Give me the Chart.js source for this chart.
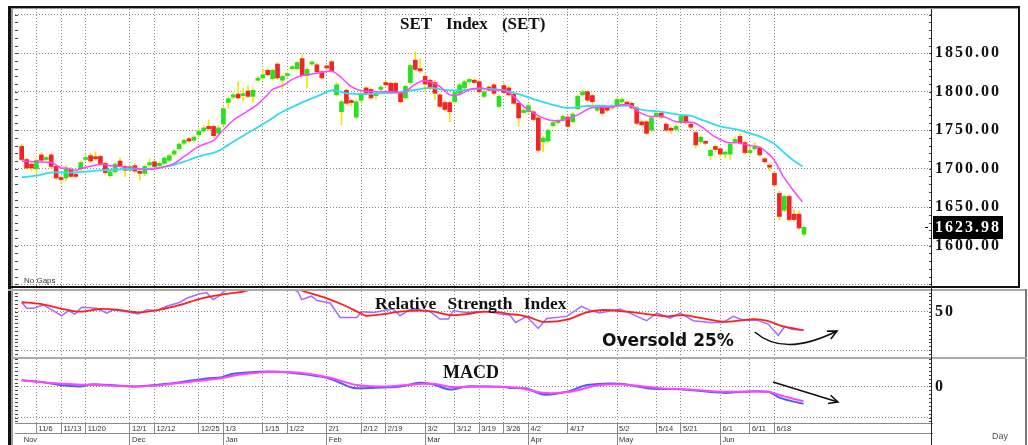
<!DOCTYPE html>
<html>
<head>
<meta charset="utf-8">
<script src="https://cdn.jsdelivr.net/npm/chart.js@4.4.1/dist/chart.umd.min.js"></script>
<style>
  body { margin: 0; background: #fff; }
  #wrap { position: relative; width: 1028px; height: 445px; overflow: hidden; background: #fff; }
  canvas { position: absolute; }
  .ln { position: absolute; }
  .lbl { position: absolute; white-space: nowrap; color: #111; }
  .serif { font-family: "Liberation Serif", "Times New Roman", serif; font-weight: bold; }
</style>
</head>
<body>
<div id="wrap">
  <canvas id="main" width="1003" height="277" style="left:15px;top:9px"></canvas>
  <canvas id="rsi" width="1003" height="65" style="left:15px;top:291px"></canvas>
  <canvas id="macd" width="1003" height="86" style="left:15px;top:359px"></canvas>

  <!-- frame -->
  <div class="ln" style="left:8px;top:6px;width:1012px;height:2px;background:#111"></div>
  <div class="ln" style="left:8px;top:8px;width:1012px;height:1px;background:#999"></div>
  <div class="ln" style="left:8px;top:6px;width:3px;height:439px;background:#111"></div>
  <div class="ln" style="left:11px;top:8px;width:2px;height:437px;background:#999"></div>
  <div class="ln" style="left:8px;top:286px;width:1012px;height:2px;background:#111"></div>
  <div class="ln" style="left:8px;top:289px;width:1019px;height:2px;background:#aaa"></div>
  <div class="ln" style="left:1018px;top:6px;width:2px;height:282px;background:#111"></div>
  <div class="ln" style="left:1025px;top:289px;width:2px;height:156px;background:#777"></div>
  <div class="ln" style="left:11px;top:357px;width:1016px;height:2px;background:#aaa"></div>
  <div class="ln" style="left:931px;top:9px;width:1px;height:436px;background:#222"></div>

  <!-- texts -->
  <div class="lbl serif" style="left:400px;top:15px;font-size:17px;line-height:17px;word-spacing:10px">SET Index (SET)</div>
  <div class="lbl serif" style="left:375px;top:295px;font-size:17.5px;line-height:17.5px;word-spacing:7px">Relative Strength Index</div>
  <div class="lbl serif" style="left:443px;top:363px;font-size:18px;line-height:18px">MACD</div>
  <div class="lbl" style="left:602px;top:332px;font:bold 17px/17px 'DejaVu Sans',sans-serif">Oversold 25%</div>
  <div class="lbl" style="left:24px;top:277px;font:8px/8px 'Liberation Sans',sans-serif;color:#333">No Gaps</div>
  <div class="lbl" style="left:992px;top:432px;font:9px/9px 'Liberation Sans',sans-serif;color:#555">Day</div>
</div>

<script>
// ---- data (x = trading day index, 0 = 1 Nov) ----
const opens = [
  1729,1712,1706,1700,1718,1712,1718,1703,1688,1688,
  1699,1693,1700,1712,1717,1715,1716,1707,1691,1696,
  1710,1703,1698,1704,1696,1694,1705,1709,1704,1707,
  1711,1719,1726,1733,1739,1737,1744,1749,1755,1755,
  1746,1758,1786,1793,1797,1795,1801,1794,1815,1818,
  1828,1817,1836,1815,1821,1830,1830,1843,1821,1836,
  1835,1826,1833,1839,1796,1774,1802,1788,1767,1789,
  1805,1803,1795,1803,1812,1811,1811,1798,1792,1812,
  1841,1830,1820,1815,1812,1796,1786,1786,1787,1798,
  1805,1813,1815,1813,1794,1806,1809,1781,1808,1805,
  1797,1785,1773,1774,1774,1766,1735,1736,1756,1760,
  1764,1767,1761,1778,1796,1800,1795,1776,1781,1778,
  1779,1782,1787,1786,1785,1779,1761,1761,1750,1768,
  1772,1758,1752,1751,1760,1768,1758,1747,1735,1735,
  1717,1729,1726,1719,1719,1735,1742,1734,1721,1726,
  1727,1713,1704,1694,1668,1646,1664,1641,1641,1615
];
const closes = [
  1712,1701,1701,1711,1711,1714,1703,1688,1686,1700,
  1690,1690,1708,1714,1710,1713,1706,1695,1696,1706,
  1704,1698,1703,1697,1694,1703,1708,1703,1707,1714,
  1717,1723,1732,1737,1736,1741,1749,1753,1752,1743,
  1753,1778,1791,1796,1792,1796,1794,1802,1817,1822,
  1822,1828,1818,1820,1823,1832,1838,1821,1829,1838,
  1826,1818,1831,1827,1809,1787,1785,1786,1787,1798,
  1798,1792,1798,1806,1809,1799,1800,1787,1807,1834,
  1829,1827,1810,1805,1798,1781,1777,1774,1799,1809,
  1813,1816,1812,1800,1800,1802,1798,1794,1799,1796,
  1785,1766,1776,1782,1764,1724,1740,1750,1760,1762,
  1768,1755,1771,1794,1800,1789,1787,1780,1772,1776,
  1781,1790,1790,1784,1779,1759,1757,1746,1766,1772,
  1767,1750,1750,1755,1768,1760,1754,1731,1741,1733,
  1724,1725,1719,1721,1732,1738,1733,1721,1723,1728,
  1718,1709,1702,1679,1638,1664,1634,1634,1623,1623.98
];
const highs = [
  1732,1714,1708,1713,1721,1716,1720,1705,1690,1704,
  1702,1695,1710,1718,1720,1722,1718,1709,1698,1708,
  1714,1705,1705,1707,1698,1705,1713,1711,1709,1716,
  1719,1725,1734,1739,1741,1743,1752,1756,1763,1757,
  1756,1780,1793,1799,1813,1805,1808,1804,1820,1829,
  1830,1830,1838,1822,1826,1834,1840,1848,1831,1840,
  1837,1828,1835,1841,1812,1789,1804,1790,1789,1800,
  1807,1805,1800,1808,1815,1813,1813,1800,1809,1836,
  1852,1843,1823,1817,1815,1798,1788,1788,1801,1811,
  1815,1818,1817,1815,1802,1808,1811,1796,1811,1807,
  1799,1787,1778,1784,1776,1768,1742,1752,1762,1764,
  1770,1769,1773,1796,1802,1802,1797,1782,1783,1780,
  1783,1792,1792,1788,1787,1781,1763,1763,1768,1774,
  1774,1760,1754,1757,1770,1770,1760,1749,1743,1737,
  1726,1731,1728,1723,1734,1741,1745,1736,1728,1734,
  1729,1715,1706,1696,1671,1666,1666,1647,1645,1626
];
const lows = [
  1710,1699,1697,1694,1709,1710,1701,1686,1681,1685,
  1688,1688,1698,1710,1708,1711,1704,1692,1689,1694,
  1702,1690,1696,1695,1685,1691,1703,1701,1702,1705,
  1709,1717,1724,1731,1734,1735,1742,1747,1750,1740,
  1744,1756,1778,1791,1790,1787,1792,1786,1813,1816,
  1820,1815,1816,1804,1819,1828,1828,1819,1805,1834,
  1824,1816,1829,1825,1794,1757,1783,1781,1765,1787,
  1796,1790,1790,1801,1807,1797,1798,1785,1790,1810,
  1827,1825,1800,1803,1790,1779,1775,1761,1785,1796,
  1803,1811,1810,1798,1792,1800,1796,1779,1797,1794,
  1783,1755,1771,1772,1762,1722,1722,1734,1754,1758,
  1762,1753,1759,1776,1794,1787,1780,1774,1770,1774,
  1777,1780,1785,1782,1777,1757,1755,1744,1748,1766,
  1765,1748,1746,1749,1758,1758,1752,1727,1733,1731,
  1712,1722,1715,1714,1712,1733,1731,1719,1719,1724,
  1716,1707,1697,1677,1633,1644,1632,1632,1621,1612
];

// moving averages [day index, value]
const maFast = [[0,1710],[2.4,1709],[6,1708],[8,1701],[9,1701],[11,1698],[12.5,1701],[16,1706],[18,1704],[20,1703],
  [22.7,1701],[25.4,1699],[28,1701],[31,1707],[33.5,1718],[36,1729],[39,1737],[40.6,1748],[43,1763],[45.7,1774],
  [47.8,1783],[49.8,1795],[51,1803],[53,1808],[55,1816],[57,1821],[59,1823],[61,1825],[63,1827],[64.7,1820],
  [66.7,1808],[68.7,1802],[71.5,1800],[74.9,1800],[77.6,1799],[79.6,1808],[81.3,1814],[83,1813],[85,1807],[87,1796],
  [88.8,1796],[91,1803],[93,1805],[95.9,1802],[98,1802],[100,1794],[102,1781],[104.7,1770],[107.4,1763],[110,1763],
  [111.5,1766],[113,1770],[115.6,1779],[117.5,1780],[120,1780],[122,1783],[123.6,1782],[125.7,1773],[127.7,1768],[130.4,1768],
  [133,1761],[136.5,1760],[138.5,1753],[140.5,1743],[143.5,1734],[145.3,1734],[148,1730],[150,1728],[152,1718],[153,1711],
  [154.8,1690],[156.8,1672],[158.7,1657]];
const maSlow = [[0,1689],[3,1691],[5.8,1695],[9,1695],[12.5,1696],[16,1698],[19.3,1699],[22.7,1700],[26,1700],[29.5,1703],
  [32.9,1709],[36,1716],[39.6,1722],[41,1727],[43,1735],[46.4,1748],[49.8,1761],[53,1774],[56.6,1785],[60,1794],
  [63.3,1802],[66,1798],[69.4,1797],[72.8,1798],[76,1799],[79.6,1802],[83,1805],[86.4,1802],[89.8,1802],[93,1804],
  [96.6,1803],[99.3,1800],[102,1795],[104.7,1789],[107.4,1784],[110.8,1779],[114.2,1781],[116.9,1782],[120,1781],[123.6,1782],
  [126.3,1776],[130,1774],[133.8,1770],[135.8,1769],[138.5,1763],[142,1755],[145.3,1751],[148,1746],[150,1742],[152.8,1733],
  [154.8,1722],[156.8,1711],[158.7,1703]];

// RSI
const rsiFast = [[0,62.3],[1,54.4],[2.4,54.4],[4.4,58.8],[6.4,51.3],[8.1,44.7],[9.5,51.3],[10.8,46.9],[12.2,55.7],[15.2,54.4],
  [17.3,48.2],[18.6,52.6],[21.3,50],[23.7,46.9],[25.4,52.6],[27.4,51.3],[29.5,57],[32.2,62.3],[33.5,67.5],[36.2,73.3],
  [37.6,74.6],[38.9,65.8],[40.3,71.1],[41,76.3],[44,84],[48,88],[52,86],[55,80],[56.2,75.4],[56.9,65.8],
  [58.9,70.2],[60,64.5],[62.7,61.4],[64.7,42.5],[68.1,42.5],[69.1,50],[71.5,49.1],[73.5,51.3],[75.5,53.5],[76.9,44.7],
  [78.9,52.6],[80.9,52.6],[83,50],[85,40.4],[86.7,40.4],[87.7,51.3],[90.4,49.1],[92.5,50],[95.2,50],[97.2,46.9],
  [99.2,45.6],[100.4,36],[102.6,43.9],[105,28.1],[106.7,41.2],[110.8,43.9],[113.8,57],[115.2,52.6],[117.5,48.2],[121.6,53.5],
  [123.6,48.2],[127,38.2],[129.1,48.2],[131.8,41.7],[133.8,48.2],[136.5,38.2],[139.9,36],[142.6,36],[144.6,43.9],[146.7,39],
  [149.4,39],[151.7,33.8],[153.8,19.3],[155.1,30.7],[156.5,27.2],[158.9,25.9]];
const rsiSlow = [[0,62.3],[3.7,60.1],[7.8,54.4],[11.8,50],[15.9,53.5],[19.3,52.6],[24,49.1],[28.1,52.6],[32.2,58.8],[36.2,66.7],
  [40.3,72],[45,76.3],[50,84],[54,83],[57.9,75.4],[62,67.5],[65.4,58.8],[68.8,48.2],[70.1,44.7],[73.5,46.9],
  [76.9,50],[80.9,51.3],[83.7,50],[87,45.6],[90.4,46.9],[93.8,50],[97.2,49.1],[99.2,46.9],[101.3,45.6],[103.3,42.5],
  [106,36.8],[110.8,39.5],[114.8,49.1],[118.2,52.2],[123,50],[127,46.9],[131.1,43.9],[134.5,45.6],[138.5,41.2],[143.3,36.8],
  [148.7,40.4],[151.4,38.2],[154.8,30.7],[158.9,25.9]];

// MACD
const macdLine = [[0,4.1],[3.7,3.0],[7.8,0.9],[11.8,0],[13.9,1.3],[15.9,1.3],[22.7,0],[26.1,0.6],[29.5,1.7],[33.5,3.4],
  [37.6,5.2],[40.7,6.0],[43,8.2],[48.4,9.5],[51.8,9.5],[56.6,8.2],[62,5.6],[64.7,2.4],[67.4,-0.9],[71.5,-0.9],
  [76.9,0],[80.9,2.4],[83.7,1.3],[87,-1.9],[90.4,0],[93.8,0],[97.2,-0.2],[99.2,-0.9],[102.6,-1.3],[106,-5.2],
  [110.8,-3.4],[114.9,0.9],[121.6,1.7],[127.7,-1.3],[134.5,-1.9],[142.6,-4.1],[146.7,-3.4],[151.7,-3.4],[154.1,-7.3],[158.9,-11.2]];
const macdSignal = [[0,3.9],[5.8,2.2],[11.2,1.3],[15.9,0.9],[22.7,0],[27.4,0.6],[33.5,2.8],[40.3,5.2],[44.4,7.7],[51.1,9.5],
  [56.6,8.8],[62.7,5.6],[68.1,0.9],[73.5,0],[80.3,1.5],[83.7,1.7],[87.7,-0.4],[93.8,0],[99.2,-0.4],[101.3,-0.9],
  [106,-4.1],[111.4,-3.4],[116.9,0.6],[122.3,1.3],[129.7,-1.1],[135.8,-1.9],[142.6,-3.4],[151.4,-3.4],[154.8,-6.2],[158.9,-9.5]];

// axis ticks
const dateIdx = [3,8,13,22,27,36,41,49,54,62,69,74,82,88,93,98,103,111,121,129,134,142,148,153];
const dateLabels = ['11/6','11/13','11/20','12/1','12/12','12/25','1/3','1/15','1/22','2/1','2/12','2/19',
  '3/2','3/12','3/19','3/26','4/2','4/17','5/2','5/14','5/21','6/1','6/11','6/18'];
const monthIdx = [0,22,41,62,82,103,121,142];
const monthLabels = ['Nov','Dec','Jan','Feb','Mar','Apr','May','Jun'];
const priceTicks = [1550,1600,1650,1700,1750,1800,1850,1900];
const priceLabels = ['','1600.00','1650.00','1700.00','1750.00','1800.00','1850.00',''];
const rsiTicks = [0,50];
const rsiLabels = ['','50'];
const macdTicks = [-20,0];
const macdLabels = ['','0'];

// arrows drawn in data units [day, value]
const rsiArrow = [[149,23.5],[154.9,-9.8],[165.7,24.8]];
const macdArrow = [[152.7,2.9],[165.9,-10]];

// ---- chart setup ----
Chart.defaults.font.family = '"Liberation Sans", Arial, sans-serif';
Chart.defaults.animation = false;
Chart.defaults.events = [];
Chart.defaults.plugins.legend.display = false;
Chart.defaults.plugins.tooltip.enabled = false;

const X_MIN = -1.36, X_MAX = 185.02;
const GRID = '#8c8c8c';
const RED = '#f2242a', GREEN = '#25e025', WICK = '#f2e600';
const axisFont = { family: '"Liberation Serif", serif', size: 16, weight: 'bold' };
const pts = arr => arr.map(p => ({ x: p[0], y: p[1] }));
const days = opens.map((o, i) => i);

function xAxis() {
  return {
    type: 'linear', min: X_MIN, max: X_MAX, bounds: 'data', offset: false,
    afterBuildTicks: s => { s.ticks = dateIdx.map(v => ({ value: v })); },
    ticks: { display: false },
    grid: { color: GRID, drawTicks: false, offset: false },
    border: { display: false, dash: [1, 2] },
    afterFit: s => { s.height = 0; s.paddingLeft = 0; s.paddingRight = 0; }
  };
}

function yAxis(min, max, tickVals, labels) {
  return {
    type: 'linear', position: 'right', min: min, max: max, bounds: 'data',
    afterBuildTicks: s => { s.ticks = tickVals.map(v => ({ value: v })); },
    ticks: { callback: (v, i) => labels[i], font: axisFont, color: '#111', padding: 3 },
    grid: { color: GRID, drawTicks: false },
    border: { display: false, dash: [1, 2] },
    afterFit: s => { s.width = 86; s.paddingTop = 0; s.paddingBottom = 0; }
  };
}

// small tick marks along the left and right edges of each panel
const edgeTicks = {
  id: 'edgeTicks',
  afterDraw(chart, args, opts) {
    const { ctx, chartArea: { left, right } } = chart;
    const ys = chart.scales.y;
    ctx.save();
    ctx.strokeStyle = '#444';
    ctx.lineWidth = 1;
    ctx.beginPath();
    for (let v = Math.ceil(ys.min / opts.step) * opts.step; v <= ys.max; v += opts.step) {
      const y = Math.round(ys.getPixelForValue(v)) + 0.5;
      ctx.moveTo(left, y); ctx.lineTo(left + 3, y);
      ctx.moveTo(right - 3, y); ctx.lineTo(right, y);
    }
    ctx.stroke();
    ctx.restore();
  }
};

const spaced = {
  id: 'spaced',
  beforeDraw(c) { c.ctx.letterSpacing = '2px'; },
  afterDraw(c) { c.ctx.letterSpacing = '0px'; }
};

function makeArrow(points) {
  return {
    id: 'arrow',
    afterDatasetsDraw(chart) {
      const { ctx, scales: { x, y } } = chart;
      const p = points.map(q => [x.getPixelForValue(q[0]), y.getPixelForValue(q[1])]);
      ctx.save();
      ctx.strokeStyle = '#111';
      ctx.lineWidth = 1.6;
      ctx.beginPath();
      ctx.moveTo(p[0][0], p[0][1]);
      if (p.length === 3) ctx.quadraticCurveTo(p[1][0], p[1][1], p[2][0], p[2][1]);
      else ctx.lineTo(p[1][0], p[1][1]);
      ctx.stroke();
      const end = p[p.length - 1], prev = p[p.length - 2];
      const a = Math.atan2(end[1] - prev[1], end[0] - prev[0]);
      ctx.beginPath();
      ctx.moveTo(end[0] - 10 * Math.cos(a - 0.45), end[1] - 10 * Math.sin(a - 0.45));
      ctx.lineTo(end[0], end[1]);
      ctx.lineTo(end[0] - 10 * Math.cos(a + 0.45), end[1] - 10 * Math.sin(a + 0.45));
      ctx.stroke();
      ctx.restore();
    }
  };
}

// black box with the last close on the price axis
const lastPrice = {
  id: 'lastPrice',
  afterDraw(chart) {
    const { ctx, chartArea: { right } } = chart;
    const last = closes[closes.length - 1];
    const y = chart.scales.y.getPixelForValue(last);
    ctx.save();
    ctx.fillStyle = '#000';
    ctx.fillRect(right + 1, Math.round(y) - 11, 70, 23);
    ctx.fillRect(right - 7, Math.round(y), 3, 1);
    ctx.fillStyle = '#fff';
    ctx.font = 'bold 16px "Liberation Serif", serif';
    ctx.letterSpacing = '2px';
    ctx.textBaseline = 'middle';
    ctx.fillText(last.toFixed(2), right + 3, y + 1);
    ctx.restore();
  }
};

const lineDs = (data, color, width, tension, order) => ({
  type: 'line', data: pts(data), borderColor: color, borderWidth: width,
  pointRadius: 0, tension: tension, order: order
});

// ---- main price panel ----
new Chart(document.getElementById('main'), {
  type: 'bar',
  data: {
    datasets: [
      lineDs(maFast, '#ff45ff', 1.5, 0.3, 0),
      lineDs(maSlow, '#30dcef', 1.8, 0.3, 0),
      {
        data: days.map(i => ({ x: i, y: [opens[i], closes[i]] })),
        backgroundColor: days.map(i => closes[i] >= opens[i] ? GREEN : RED),
        barThickness: 4, grouped: false, minBarLength: 2, borderWidth: 0, order: 1
      },
      {
        data: days.map(i => ({ x: i, y: [lows[i], highs[i]] })),
        backgroundColor: WICK,
        barThickness: 1, grouped: false, borderWidth: 0, order: 2
      }
    ]
  },
  options: {
    responsive: false,
    layout: { padding: 0 },
    scales: { x: xAxis(), y: yAxis(1547.7, 1907.5, priceTicks, priceLabels) },
    plugins: { edgeTicks: { step: 10 } }
  },
  plugins: [edgeTicks, spaced, lastPrice]
});

// ---- RSI panel ----
new Chart(document.getElementById('rsi'), {
  type: 'line',
  data: {
    datasets: [
      lineDs(rsiSlow, '#ff1f1f', 1.8, 0.3, 0),
      lineDs(rsiFast, '#a36cff', 1.5, 0, 1)
    ]
  },
  options: {
    responsive: false,
    layout: { padding: 0 },
    scales: { x: xAxis(), y: yAxis(-7.8, 77.0, rsiTicks, rsiLabels) },
    plugins: { edgeTicks: { step: 5 } }
  },
  plugins: [edgeTicks, spaced, makeArrow(rsiArrow)]
});

// ---- MACD panel with the date rows ----
const macdX = xAxis();
macdX.ticks = {
  display: true, autoSkip: false, maxRotation: 0, minRotation: 0, align: 'start',
  padding: -9, color: '#333', font: { size: 7.5 },
  callback: (v, i) => ' ' + dateLabels[i]
};
macdX.grid = { color: GRID, drawTicks: true, tickLength: 10, tickColor: '#8a8a8a', offset: false };
macdX.border = { display: true, color: '#8a8a8a', width: 1, dash: [1, 2] };
macdX.weight = 0;
macdX.afterFit = s => { s.height = 10; s.paddingLeft = 0; s.paddingRight = 0; };

new Chart(document.getElementById('macd'), {
  type: 'line',
  data: {
    datasets: [
      lineDs(macdSignal, '#ff45ff', 2, 0.3, 0),
      lineDs(macdLine, '#4a5cff', 2, 0.3, 1)
    ]
  },
  options: {
    responsive: false,
    layout: { padding: 0 },
    scales: {
      x: macdX,
      xm: {
        type: 'linear', position: 'bottom', min: X_MIN, max: X_MAX, bounds: 'data', offset: false, weight: 1,
        afterBuildTicks: s => { s.ticks = monthIdx.map(v => ({ value: v })); },
        ticks: {
          autoSkip: false, maxRotation: 0, minRotation: 0, align: 'start',
          padding: -10, color: '#333', font: { size: 7.5 },
          callback: (v, i) => ' ' + monthLabels[i]
        },
        grid: {
          drawOnChartArea: false, drawTicks: true, tickLength: 12, offset: false,
          tickColor: c => c.index === 0 ? 'rgba(0,0,0,0)' : '#8a8a8a'
        },
        border: { display: true, color: '#8a8a8a', width: 1 },
        afterFit: s => { s.height = 12; s.paddingLeft = 0; s.paddingRight = 0; }
      },
      y: yAxis(-23.5, 17.7, macdTicks, macdLabels)
    },
    plugins: { edgeTicks: { step: 2.5 } }
  },
  plugins: [edgeTicks, makeArrow(macdArrow)]
});
</script>
</body>
</html>
